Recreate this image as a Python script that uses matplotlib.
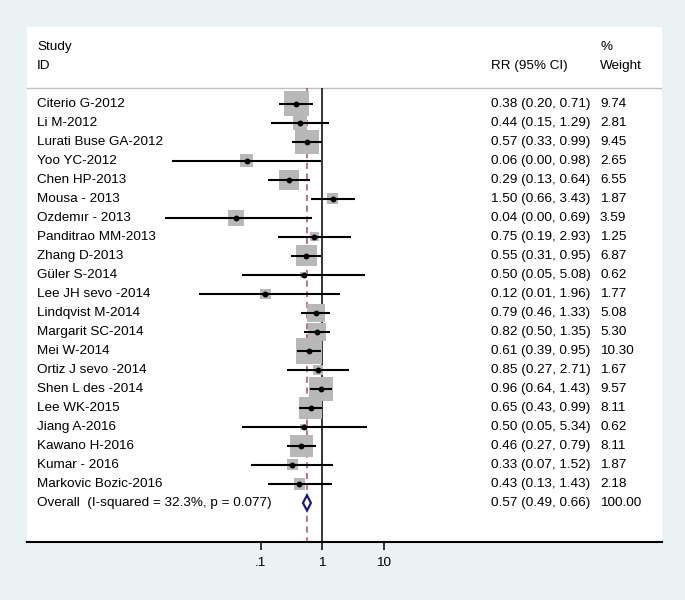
import numpy as np
import matplotlib
matplotlib.use('Agg')
import matplotlib.pyplot as plt
from matplotlib.transforms import blended_transform_factory
from matplotlib.patches import Polygon

plt.rcParams['font.family'] = ['Liberation Sans', 'DejaVu Sans']

# Study data
studies = ['Citerio G-2012', 'Li M-2012', 'Lurati Buse GA-2012', 'Yoo YC-2012',
           'Chen HP-2013', 'Mousa - 2013', 'Ozdemır - 2013', 'Panditrao MM-2013',
           'Zhang D-2013', 'Güler S-2014', 'Lee JH sevo -2014', 'Lindqvist M-2014',
           'Margarit SC-2014', 'Mei W-2014', 'Ortiz J sevo -2014', 'Shen L des -2014',
           'Lee WK-2015', 'Jiang A-2016', 'Kawano H-2016', 'Kumar - 2016',
           'Markovic Bozic-2016']
rr = [0.38, 0.44, 0.57, 0.06, 0.29, 1.50, 0.04, 0.75, 0.55, 0.50, 0.12,
      0.79, 0.82, 0.61, 0.85, 0.96, 0.65, 0.50, 0.46, 0.33, 0.43]
ci_low = [0.20, 0.15, 0.33, 0.0036, 0.13, 0.66, 0.0028, 0.19, 0.31, 0.05, 0.01,
          0.46, 0.50, 0.39, 0.27, 0.64, 0.43, 0.05, 0.27, 0.07, 0.13]
ci_high = [0.71, 1.29, 0.99, 0.98, 0.64, 3.43, 0.69, 2.93, 0.95, 5.08, 1.96,
           1.33, 1.35, 0.95, 2.71, 1.43, 0.99, 5.34, 0.79, 1.52, 1.43]
weights = [9.74, 2.81, 9.45, 2.65, 6.55, 1.87, 3.59, 1.25, 6.87, 0.62, 1.77,
           5.08, 5.30, 10.30, 1.67, 9.57, 8.11, 0.62, 8.11, 1.87, 2.18]

overall_label = 'Overall  (I-squared = 32.3%, p = 0.077)'
overall_rr, overall_low, overall_high = 0.57, 0.49, 0.66

tick_vals = [0.1, 1, 10]
tick_labels = ['.1', '1', '10']

bg = '#eaf2f3'
fs = 9.7

fig = plt.figure(figsize=(6.85, 6.0), dpi=100, facecolor=bg)
ax = fig.add_axes([27 / 685, 58.5 / 600, 635 / 685, 514.5 / 600])
ax.set_facecolor('white')

n = len(studies)
rows = np.arange(n)
ov_row = n

ax.set_xscale('log')
ax.set_xlim(10 ** -4.797, 10 ** 5.528)
ax.set_ylim(23.03, -4.05)

# reference lines
sep = -0.84
ax.axhline(sep, color='#c0c0c0', lw=1, zorder=1)
ax.vlines(1, sep, 23.03, color='black', lw=1.1, zorder=1)
ax.vlines(overall_rr, sep, 23.03, color='#a8505c', lw=1.1, linestyles=(0, (4, 3)), zorder=1)

# weight boxes, CI lines, point estimates
ax.scatter(rr, rows, marker='s', s=np.array(weights) * 33.2, color='#b8b8b8', zorder=2,
           linewidths=0)
ax.hlines(rows, ci_low, ci_high, color='black', lw=1.5, zorder=3)
ax.plot(rr, rows, 'o', color='black', ms=3.2, zorder=4)

# overall diamond
diamond = Polygon([(overall_low, ov_row), (overall_rr, ov_row - 0.4),
                   (overall_high, ov_row), (overall_rr, ov_row + 0.4)],
                  closed=True, facecolor='white', edgecolor='#1a1a80', lw=1.6, zorder=5)
ax.add_patch(diamond)

# text columns
tr = blended_transform_factory(ax.transAxes, ax.transData)
x_lab, x_rr, x_w = 0.0157, 0.7307, 0.9024
ax.text(x_lab, -3, 'Study', transform=tr, va='center', fontsize=fs)
ax.text(x_lab, -2, 'ID', transform=tr, va='center', fontsize=fs)
ax.text(x_rr, -2, 'RR (95% CI)', transform=tr, va='center', fontsize=fs)
ax.text(x_w, -3, '%', transform=tr, va='center', fontsize=fs)
ax.text(x_w, -2, 'Weight', transform=tr, va='center', fontsize=fs)

for i in range(n):
    ax.text(x_lab, i, studies[i], transform=tr, va='center', fontsize=fs)
    ax.text(x_rr, i, '%.2f (%.2f, %.2f)' % (rr[i], ci_low[i], ci_high[i]),
            transform=tr, va='center', fontsize=fs)
    ax.text(x_w, i, '%.2f' % weights[i], transform=tr, va='center', fontsize=fs)

ax.text(x_lab, ov_row, overall_label, transform=tr, va='center', fontsize=fs)
ax.text(x_rr, ov_row, '%.2f (%.2f, %.2f)' % (overall_rr, overall_low, overall_high),
        transform=tr, va='center', fontsize=fs)
ax.text(x_w, ov_row, '%.2f' % 100.00, transform=tr, va='center', fontsize=fs)

# axes styling
for side in ['top', 'left', 'right']:
    ax.spines[side].set_visible(False)
ax.spines['bottom'].set_linewidth(1.5)
ax.set_yticks([])
ax.set_xticks(tick_vals)
ax.set_xticklabels(tick_labels, fontsize=fs)
ax.minorticks_off()
ax.tick_params(axis='x', direction='out', length=6, width=1.1, pad=5)

fig.savefig('out.png', dpi=100, facecolor=bg)
